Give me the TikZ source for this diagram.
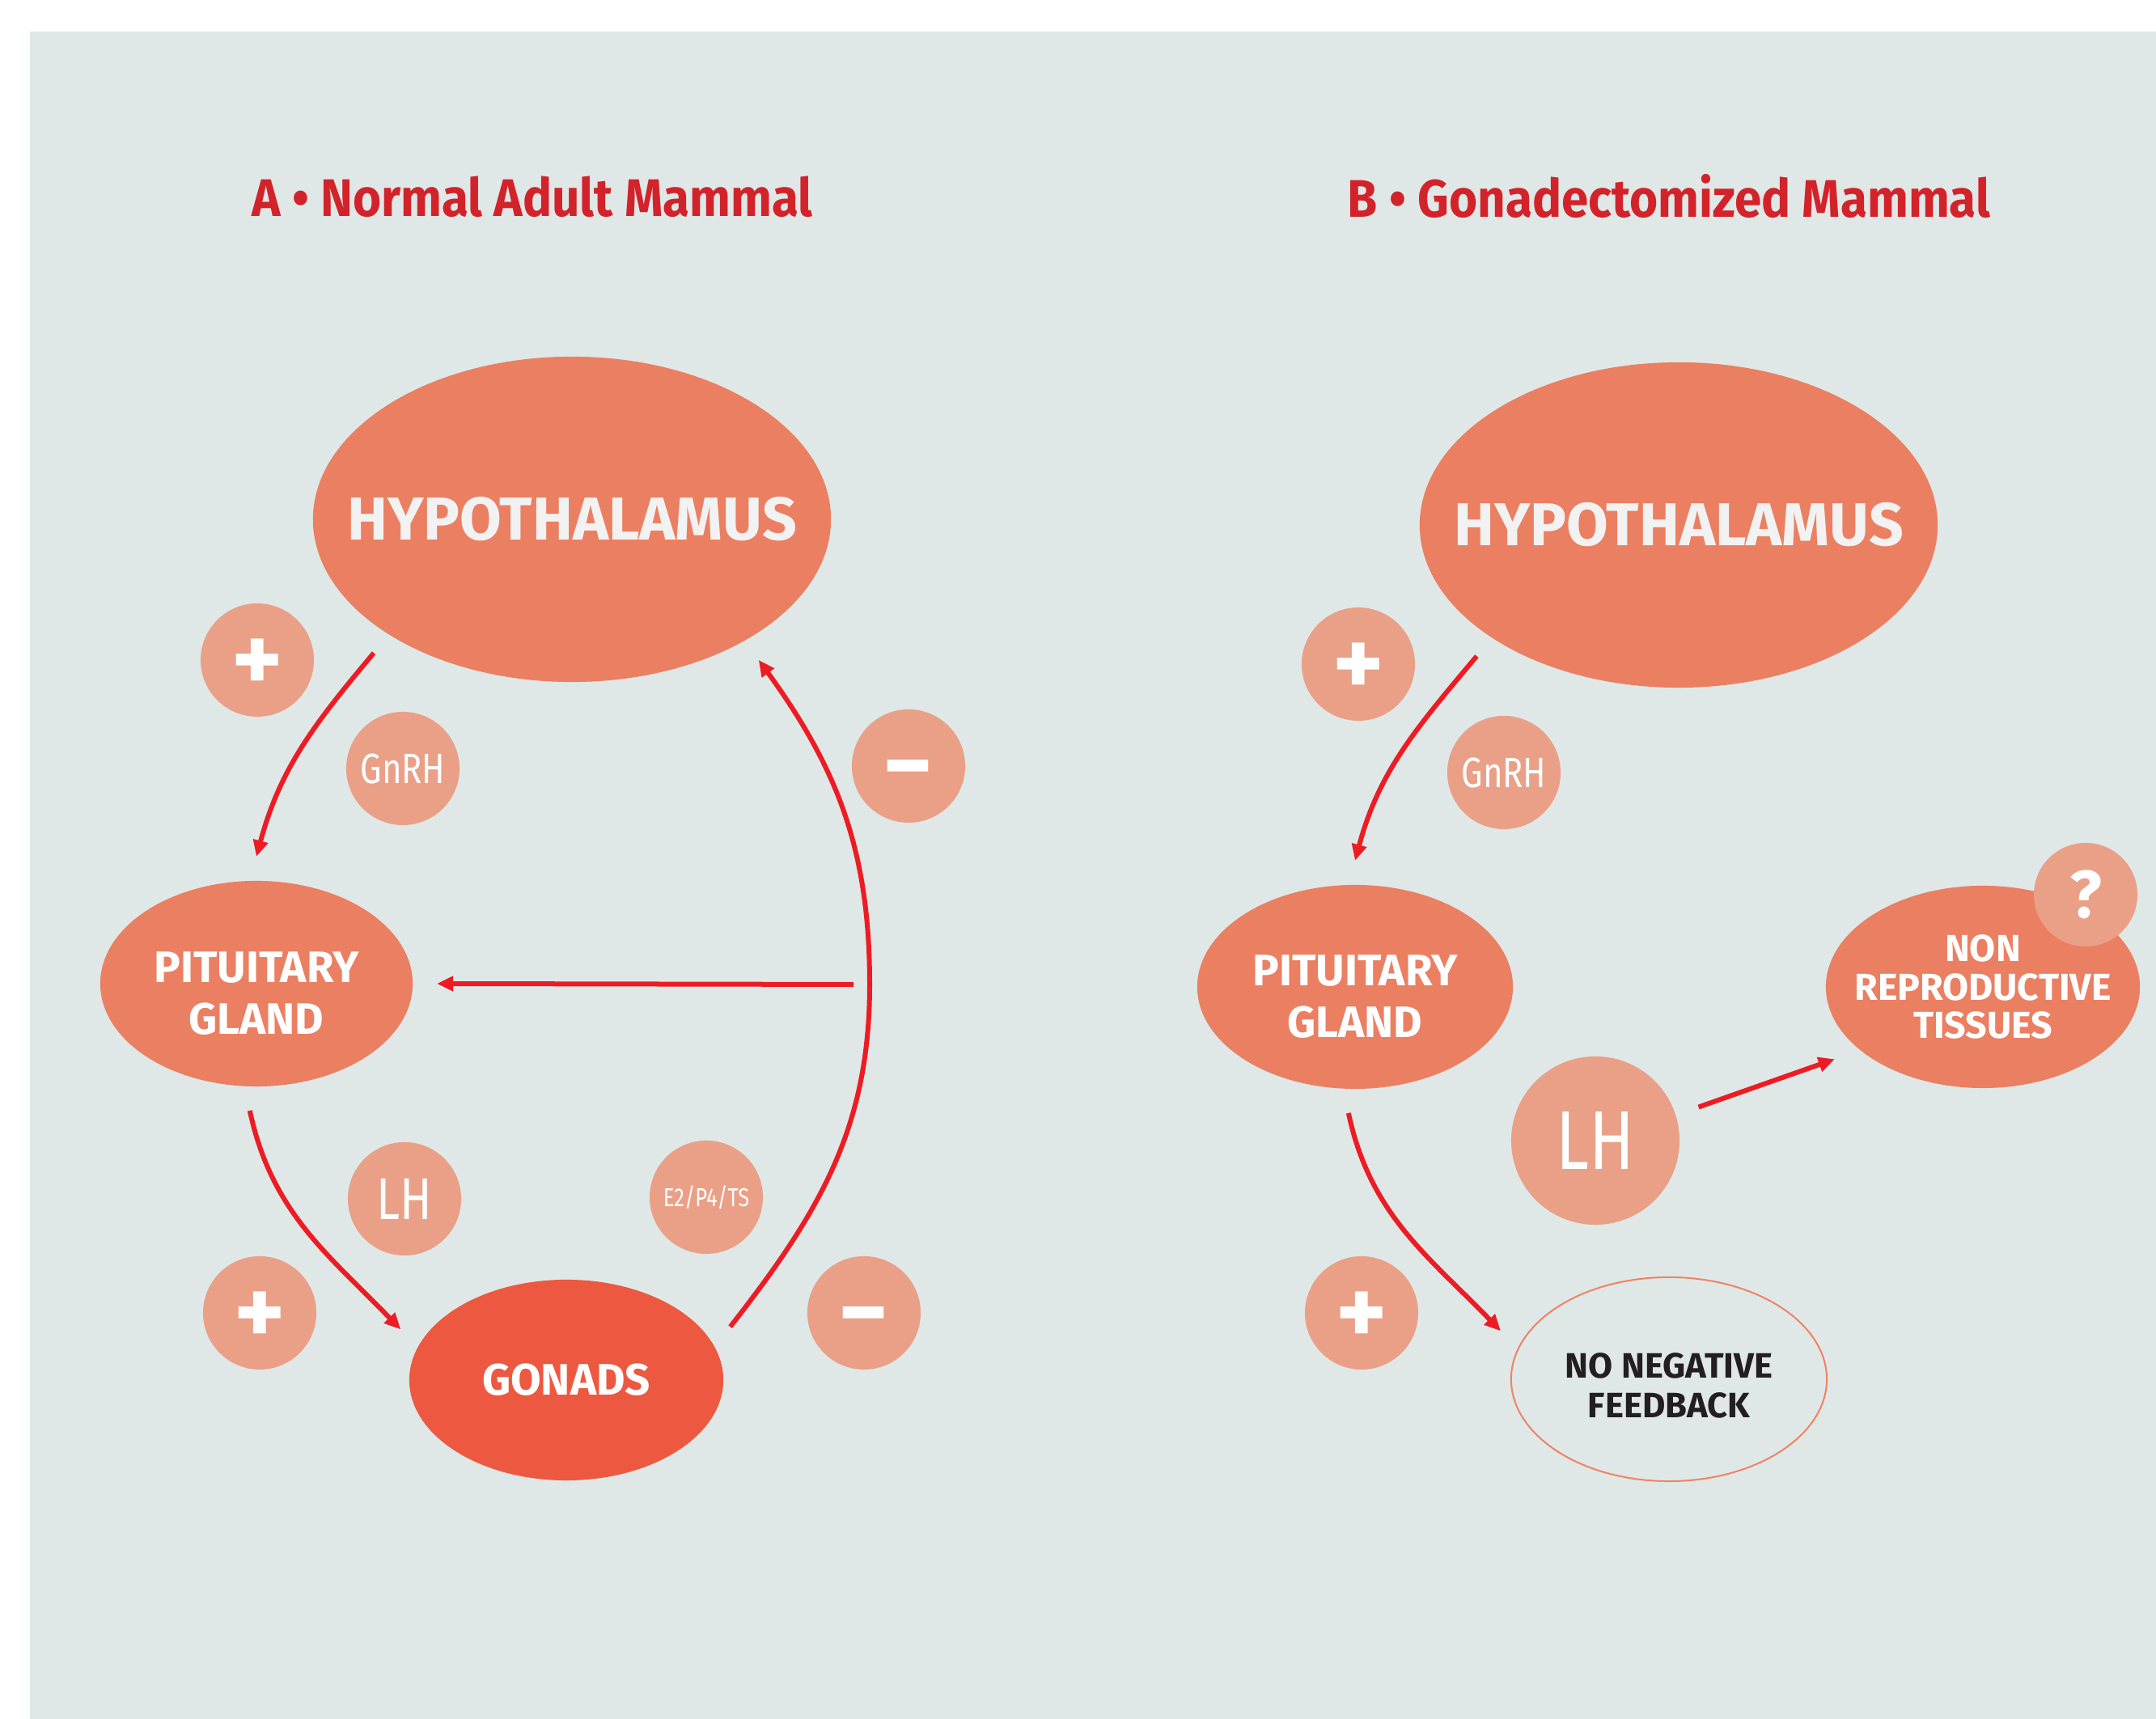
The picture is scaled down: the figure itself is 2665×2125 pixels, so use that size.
\documentclass[tikz,border=0pt]{standalone}
\usepackage{fontspec}
\setmainfont{Fira Sans}
\newfontfamily\titlefont{Fira Sans}[FakeStretch=0.92]
\newfontfamily\organfont{Fira Sans}
\newfontfamily\hormfont{Fira Sans}[FakeStretch=0.8]
\usepackage{tikz}
\usetikzlibrary{shapes.geometric, arrows.meta}

\definecolor{panel}{HTML}{DFE8E7}
\definecolor{organfill}{HTML}{EB7F62}
\definecolor{gonadfill}{HTML}{EC5940}
\definecolor{dotfill}{HTML}{EAA087}
\definecolor{arrowred}{HTML}{ED1C24}
\definecolor{titlered}{HTML}{D2232A}
\definecolor{hyptext}{HTML}{F2F2F2}
\definecolor{negline}{HTML}{F08264}
\definecolor{darktext}{HTML}{231F20}

\begin{document}
\begin{tikzpicture}[
  x=0.01cm, y=0.01cm,
  organ/.style={ellipse, fill=organfill, inner xsep=-1cm, inner ysep=0pt,
                outer sep=0.3cm, align=center, text=white,
                font=\organfont\bfseries\fontsize{15.5}{18.2}\selectfont},
  hypo/.style={organ, minimum width=6.4cm, minimum height=4.02cm, text=hyptext,
               font=\organfont\bfseries\fontsize{21.3}{24}\selectfont},
  dot/.style={circle, fill=dotfill, minimum size=1.4cm, inner sep=0pt,
              outer sep=0.3cm, text=white},
  sign/.style={dot, text height=0.8cm, text depth=0pt,
               font=\bfseries\fontsize{34}{34}\selectfont},
  horm/.style={dot, font=\hormfont\fontsize{14.9}{16}\selectfont},
  title/.style={text=titlered, font=\titlefont\bfseries\fontsize{18.6}{20}\selectfont},
  arrow/.style={-{Triangle[length=0.2cm, width=0.18cm]}, line width=0.06cm,
                draw=arrowred},
]
  \useasboundingbox (0,0) rectangle (2665,2125);
  \fill[panel] (37,0) rectangle (2665,2086);

  % A: normal adult
  \node[title] (titleA) at (658,1882) {A • Normal Adult Mammal};
  \node[hypo] (hypA) at (707,1483) {HYPOTHALAMUS};
  \node[organ, minimum width=3.86cm, minimum height=2.54cm] (pitA) at (317,909)
    {\rule{0pt}{0.62cm}PITUITARY\\GLAND};
  \node[organ, fill=gonadfill, minimum width=3.88cm, minimum height=2.48cm]
    (gonA) at (700,419) {GONADS};
  \node[sign] (plusA1)  at (318,1309) {+};
  \node[sign] (plusA2)  at (321,502)  {+};
  \node[sign] (minusA1) at (1123,1178) {−};
  \node[sign] (minusA2) at (1068,502)  {−};
  \node[horm] (gnrhA) at (498,1175) {GnRH};
  \node[horm, font=\hormfont\fontsize{20.7}{22}\selectfont] (lhA) at (500,643) {LH};
  \node[horm, font=\hormfont\fontsize{9.1}{10}\selectfont] (steroidA) at (873,645)
    {E2/P4/TS};

  \coordinate (fbA) at (1075,908);
  \coordinate (fbStartA) at (1055,908);
  \draw[arrow] (hypA.214) to[out=-130, in=75] (pitA.north);
  \draw[arrow] (pitA.-93) to[out=-78, in=134] (gonA.163);
  \draw[arrow] (gonA.18) to[out=52, in=-90] (fbA) to[out=90, in=-54] (hypA.-37);
  \draw[arrow] (fbStartA) -- (pitA.east);

  % B: gonadectomized
  \node[title] (titleB) at (2063,1882) {B • Gonadectomized Mammal};
  \node[hypo] (hypB) at (2075,1476) {HYPOTHALAMUS};
  \node[organ, minimum width=3.9cm, minimum height=2.52cm] (pitB) at (1675,905)
    {\rule{0pt}{0.62cm}PITUITARY\\GLAND};
  \node[organ, fill=none, draw=negline, line width=0.02cm, text=darktext,
        minimum width=3.9cm, minimum height=2.52cm,
        font=\organfont\bfseries\fontsize{12.4}{13.9}\selectfont]
    (noneg) at (2063,420) {\rule{0pt}{0.47cm}NO NEGATIVE\\FEEDBACK};
  \node[organ, minimum width=3.88cm, minimum height=2.5cm,
        font=\organfont\bfseries\fontsize{13.2}{13.5}\selectfont]
    (nonrep) at (2451,905) {NON\\REPRODUCTIVE\\TISSUES};
  \node[dot, minimum size=1.28cm, font=\bfseries\fontsize{23.5}{24}\selectfont]
    (quest) at (2578,1019) {?};
  \node[sign] (plusB1) at (1679,1304) {+};
  \node[sign] (plusB2) at (1683,502)  {+};
  \node[horm] (gnrhB) at (1859,1170) {GnRH};
  \node[horm, minimum size=2.08cm, font=\hormfont\fontsize{29.3}{30}\selectfont]
    (lhB) at (1972,715) {LH};

  \draw[arrow] (hypB.213) to[out=-130, in=75] (pitB.north);
  \draw[arrow] (pitB.-93) to[out=-78, in=134] (noneg.164);
  \draw[arrow] (lhB.18) -- (nonrep.206);
\end{tikzpicture}
\end{document}
